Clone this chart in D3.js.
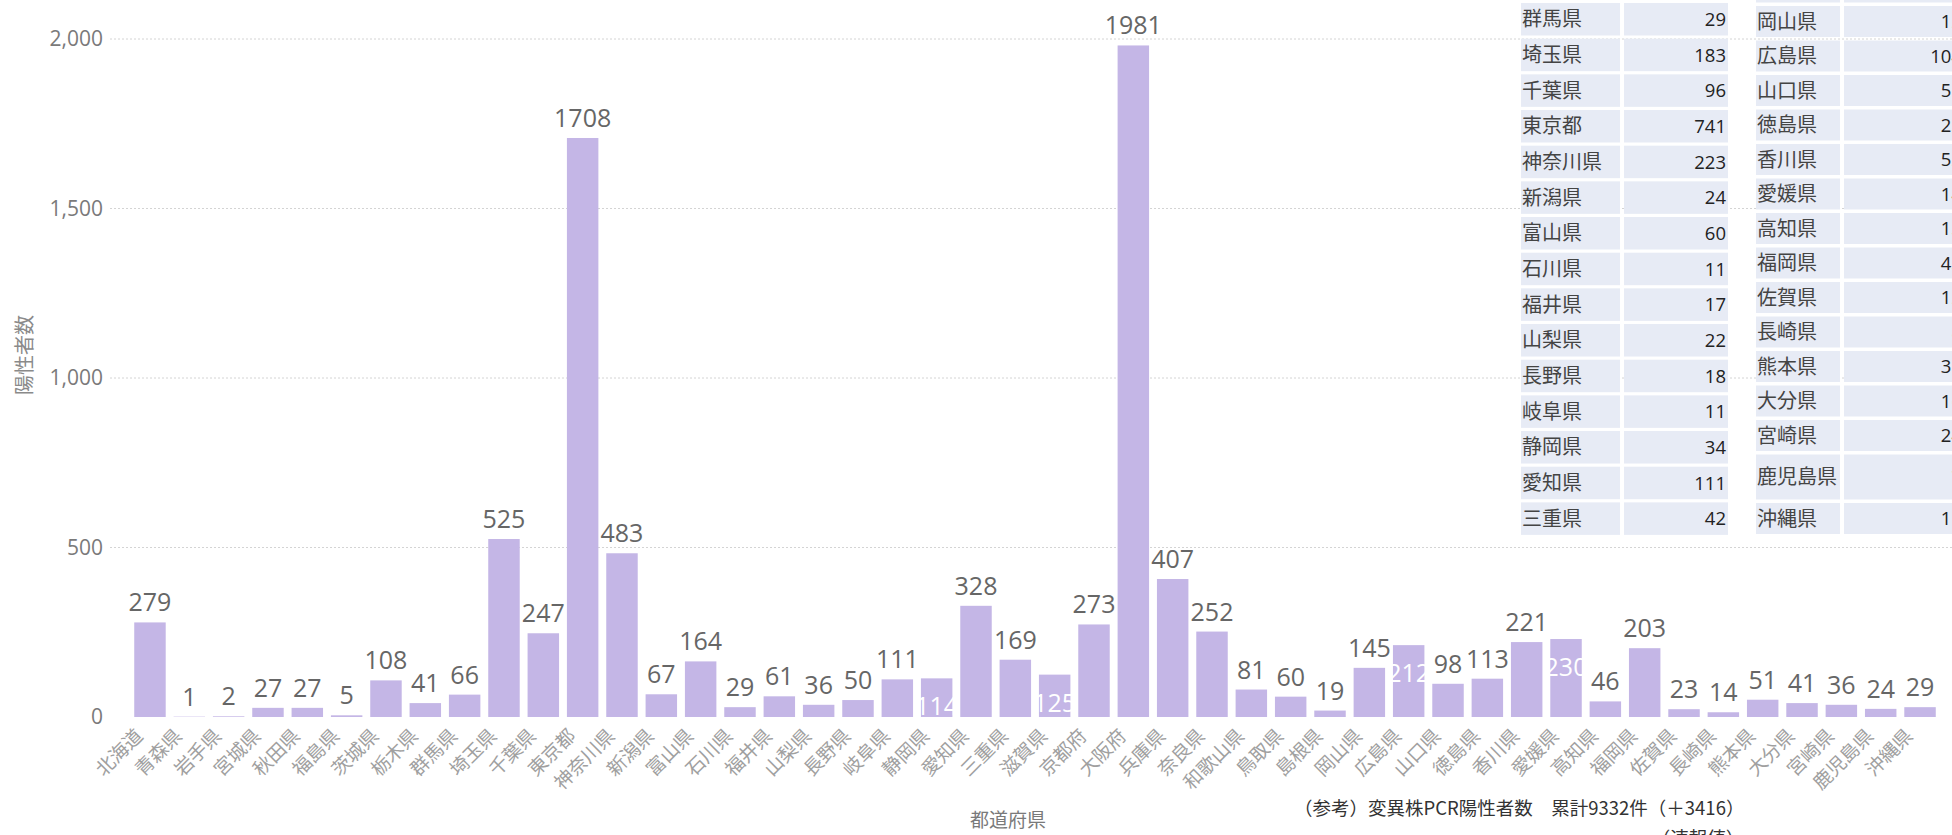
<!DOCTYPE html>
<html>
<head>
<meta charset="utf-8">
<script src="https://cdnjs.cloudflare.com/ajax/libs/d3/7.8.5/d3.min.js"></script>
<style>
  body { margin: 0; background: #fff; overflow: hidden; }
  svg { display: block; }
</style>
</head>
<body>
<svg id="chart" width="1952" height="835"></svg>
<script>
// prefectures shown on the x axis (山形県 has no bar)
var prefectures = ["北海道", "青森県", "岩手県", "宮城県", "秋田県", "福島県", "茨城県", "栃木県",
  "群馬県", "埼玉県", "千葉県", "東京都", "神奈川県", "新潟県", "富山県", "石川県", "福井県",
  "山梨県", "長野県", "岐阜県", "静岡県", "愛知県", "三重県", "滋賀県", "京都府", "大阪府",
  "兵庫県", "奈良県", "和歌山県", "鳥取県", "島根県", "岡山県", "広島県", "山口県", "徳島県",
  "香川県", "愛媛県", "高知県", "福岡県", "佐賀県", "長崎県", "熊本県", "大分県", "宮崎県",
  "鹿児島県", "沖縄県"];
var positives = [279, 1, 2, 27, 27, 5, 108, 41, 66, 525, 247, 1708, 483, 67, 164, 29, 61,
  36, 50, 111, 114, 328, 169, 125, 273, 1981, 407, 252, 81, 60, 19, 145, 212, 98, 113,
  221, 230, 46, 203, 23, 14, 51, 41, 36, 24, 29];
// bars whose value label sits inside the bar
var insideLabel = ["静岡県", "滋賀県", "広島県", "愛媛県"];
var yTicks = [0, 500, 1000, 1500, 2000];

// overlay table (scrolled, only part visible)
var leftNames = ["群馬県", "埼玉県", "千葉県", "東京都", "神奈川県", "新潟県", "富山県", "石川県",
  "福井県", "山梨県", "長野県", "岐阜県", "静岡県", "愛知県", "三重県"];
var leftValues = [29, 183, 96, 741, 223, 24, 60, 11, 17, 22, 18, 11, 34, 111, 42];
var rightNames = ["岡山県", "広島県", "山口県", "徳島県", "香川県", "愛媛県", "高知県", "福岡県",
  "佐賀県", "長崎県", "熊本県", "大分県", "宮崎県", "鹿児島県", "沖縄県"];
var rightValues = [12, 104, 51, 23, 52, 14, 13, 43, 12, 8, 31, 16, 24, 7, 15];

var svg = d3.select("#chart"),
  width = +svg.attr("width"),
  height = +svg.attr("height");

var x = d3.scaleBand().domain(prefectures).range([130.3, 1939.7])
  .paddingInner(0.2).paddingOuter(0.1);
var y = d3.scaleLinear().domain([0, 2000]).range([717, 39]);

var latin = "'Open Sans', 'Noto Sans', sans-serif";
var cjk = "'Noto Sans CJK JP', 'Noto Sans', sans-serif";

// gridlines
svg.append("g")
  .selectAll("line")
  .data(yTicks.filter(function (d) { return d > 0; }))
  .enter()
  .append("line")
  .attr("x1", 110)
  .attr("x2", width)
  .attr("y1", function (d) { return y(d); })
  .attr("y2", function (d) { return y(d); })
  .attr("stroke", "#d4d4d4")
  .attr("stroke-dasharray", "2,2");

// y axis
var yAxis = svg.append("g")
  .attr("transform", "translate(108,0)")
  .call(d3.axisLeft(y).tickValues(yTicks).tickFormat(d3.format(",")).tickSize(0).tickPadding(5));
yAxis.select(".domain").remove();
yAxis.selectAll("text")
  .style("font-family", latin)
  .style("font-size", "21px")
  .attr("fill", "#7a7a7a");

svg.append("text")
  .attr("transform", "translate(32,355) rotate(-90)")
  .attr("text-anchor", "middle")
  .style("font-family", cjk)
  .style("font-size", "20px")
  .attr("fill", "#8a8a8a")
  .text("陽性者数");

// bars
var rows = prefectures.map(function (p, i) { return { name: p, value: positives[i] }; });

svg.append("g")
  .selectAll("rect")
  .data(rows)
  .enter()
  .append("rect")
  .attr("x", function (d) { return x(d.name); })
  .attr("width", x.bandwidth())
  .attr("y", function (d) { return y(d.value); })
  .attr("height", function (d) { return y(0) - y(d.value); })
  .attr("fill", "#c4b6e6");

// value labels
svg.append("g")
  .selectAll("text")
  .data(rows)
  .enter()
  .append("text")
  .attr("x", function (d) { return x(d.name) + x.bandwidth() / 2; })
  .attr("y", function (d) {
    return insideLabel.indexOf(d.name) >= 0 ? y(d.value) + 37 : y(d.value) - 11;
  })
  .attr("text-anchor", "middle")
  .style("font-family", latin)
  .style("font-size", "25px")
  .attr("fill", function (d) { return insideLabel.indexOf(d.name) >= 0 ? "#ffffff" : "#666666"; })
  .text(function (d) { return d.value; });

// x axis
var xAxis = svg.append("g")
  .attr("transform", "translate(0,717)")
  .call(d3.axisBottom(x).tickSize(0));
xAxis.select(".domain").remove();
xAxis.selectAll("text")
  .attr("x", 0)
  .attr("y", 0)
  .attr("dy", 0)
  .attr("transform", "translate(-6,20) rotate(-45)")
  .attr("text-anchor", "end")
  .style("font-family", cjk)
  .style("font-size", "19px")
  .attr("fill", "#a0a0a0");

svg.append("text")
  .attr("x", 1008)
  .attr("y", 827)
  .attr("text-anchor", "middle")
  .style("font-family", cjk)
  .style("font-size", "19px")
  .attr("fill", "#7a7a7a")
  .text("都道府県");

// note
svg.append("text")
  .attr("x", 1294)
  .attr("y", 815)
  .style("font-family", cjk)
  .style("font-size", "18.5px")
  .attr("fill", "#333")
  .text("（参考）変異株PCR陽性者数　累計9332件（＋3416）");
svg.append("text")
  .attr("x", 1698)
  .attr("y", 845)
  .attr("text-anchor", "middle")
  .style("font-family", cjk)
  .style("font-size", "18.5px")
  .attr("fill", "#333")
  .text("（速報値）");

// table
function drawTable(names, values, x0, nameW, valueW, tops, heights) {
  var g = svg.append("g");
  var cells = g.selectAll("g")
    .data(names)
    .enter()
    .append("g")
    .attr("transform", function (d, i) { return "translate(" + x0 + "," + tops[i] + ")"; });
  cells.append("rect")
    .attr("width", nameW)
    .attr("height", function (d, i) { return heights[i]; })
    .attr("fill", "#e7ebf5");
  cells.append("rect")
    .attr("x", nameW + 4)
    .attr("width", valueW)
    .attr("height", function (d, i) { return heights[i]; })
    .attr("fill", "#e7ebf5");
  cells.append("text")
    .attr("x", 1)
    .attr("y", function (d, i) { return heights[i] / 2; })
    .attr("dy", "0.36em")
    .style("font-family", cjk)
    .style("font-size", "20px")
    .attr("fill", "#444")
    .text(function (d) { return d; });
  cells.append("text")
    .attr("x", nameW + 4 + valueW - 2)
    .attr("y", function (d, i) { return heights[i] / 2; })
    .attr("dy", "0.36em")
    .attr("text-anchor", "end")
    .style("font-family", latin)
    .style("font-size", "18.5px")
    .attr("fill", "#222")
    .text(function (d, i) { return values[i]; });
}

var leftTops = leftNames.map(function (d, i) { return 3 + i * 35.67; });
var leftHeights = leftNames.map(function () { return 32.5; });
drawTable(leftNames, leftValues, 1521, 99, 104, leftTops, leftHeights);

var rightTops = rightNames.map(function (d, i) { return i < 14 ? 6 + i * 34.5 : 503; });
var rightHeights = rightNames.map(function (d, i) { return i === 13 ? 45 : 31; });
drawTable(rightNames, rightValues, 1756, 84, 120, rightTops, rightHeights);
// sliver of the row above the first visible one
svg.append("rect").attr("x", 1756).attr("y", -30).attr("width", 84).attr("height", 32.5).attr("fill", "#e7ebf5");
svg.append("rect").attr("x", 1844).attr("y", -30).attr("width", 120).attr("height", 32.5).attr("fill", "#e7ebf5");
</script>
</body>
</html>
